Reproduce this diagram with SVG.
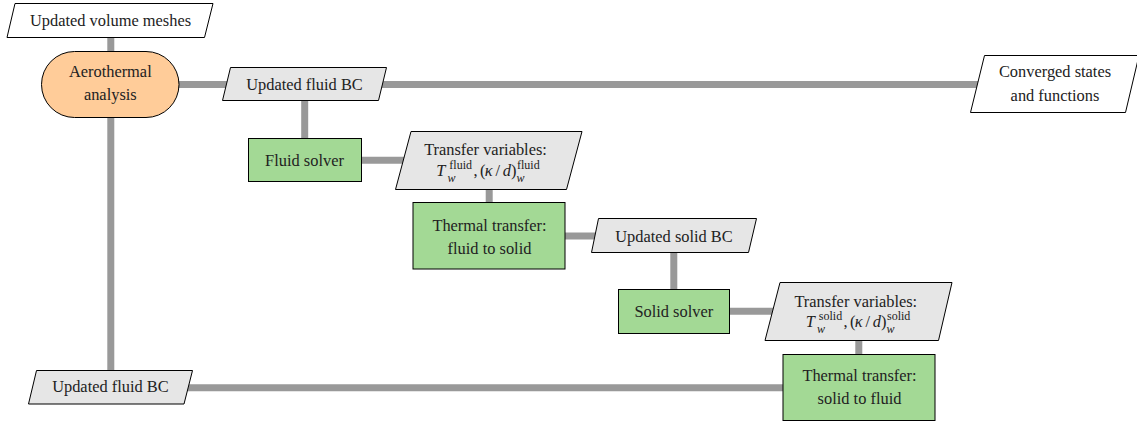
<svg xmlns="http://www.w3.org/2000/svg" width="1137" height="421" viewBox="0 0 1137 421" font-family="'Liberation Serif', 'DejaVu Serif', serif">
<style>
.c{stroke:#999999;stroke-width:7;fill:none}
.n{stroke:#000;stroke-width:1}
.w{fill:#ffffff}
.g{fill:#e6e6e6}
.o{fill:#ffcc99}
.gr{fill:#a3d995}
text{font-family:'Liberation Serif','DejaVu Serif',serif;font-size:16.4px;fill:#222;text-anchor:middle}
.m{text-anchor:start}
.i{font-style:italic}
.s{font-size:12px}
</style>
<rect width="1137" height="421" fill="#fff"/>
<g id="connectors">
<line class="c" x1="110.8" y1="30" x2="110.8" y2="60"/>
<line class="c" x1="110.8" y1="100" x2="110.8" y2="380"/>
<line class="c" x1="170" y1="84.5" x2="240" y2="84.5"/>
<line class="c" x1="370" y1="84.5" x2="990" y2="84.5"/>
<line class="c" x1="304.7" y1="90" x2="304.7" y2="150"/>
<line class="c" x1="355" y1="160.3" x2="415" y2="160.3"/>
<line class="c" x1="489.2" y1="180" x2="489.2" y2="210"/>
<line class="c" x1="560" y1="236" x2="605" y2="236"/>
<line class="c" x1="673.8" y1="245" x2="673.8" y2="295"/>
<line class="c" x1="725" y1="311.3" x2="780" y2="311.3"/>
<line class="c" x1="858.8" y1="335" x2="858.8" y2="360"/>
<line class="c" x1="180" y1="387.7" x2="790" y2="387.7"/>
</g>
<g id="volume-meshes">
<polygon class="n w" points="15,3.5 213,3.5 204.5,37.5 7,37.5"/>
<text x="110.5" y="25.5">Updated volume meshes</text>
</g>
<g id="aerothermal">
<rect class="n o" x="41.5" y="51.5" width="137.5" height="66" rx="33" ry="33"/>
<text x="110.3" y="77">Aerothermal</text>
<text x="110.3" y="100">analysis</text>
</g>
<g id="updated-fluid-bc-top">
<polygon class="n g" points="230.5,67.5 386.5,67.5 378.5,100.5 222.5,100.5"/>
<text x="304.5" y="90">Updated fluid BC</text>
</g>
<g id="converged">
<polygon class="n w" points="984.5,55.5 1139,55.5 1125.5,112.5 970.5,112.5"/>
<text x="1055" y="77">Converged states</text>
<text x="1055" y="101">and functions</text>
</g>
<g id="fluid-solver">
<rect class="n gr" x="248.5" y="138.5" width="113" height="43"/>
<text x="304.5" y="165.5">Fluid solver</text>
</g>
<g id="transfer-fluid">
<polygon class="n g" points="411,131.5 582,131.5 566.5,189.5 395.5,189.5"/>
<text x="485.5" y="155">Transfer variables:</text>
<text class="m i" x="436.3" y="175.5">T</text>
<text class="m s" x="449.3" y="168.5">fluid</text>
<text class="m s i" x="447.5" y="181.5">w</text>
<text class="m" x="473.5" y="175.5">,</text>
<text class="m" x="480" y="175.5">(</text>
<text class="m i" x="484.8" y="175.5">κ</text>
<text class="m" x="495.5" y="175.5">/</text>
<text class="m i" x="502.8" y="175.5">d</text>
<text class="m" x="511" y="175.5">)</text>
<text class="m s" x="517" y="168.5">fluid</text>
<text class="m s i" x="516.5" y="181.5">w</text>
</g>
<g id="thermal-fluid-to-solid">
<rect class="n gr" x="413" y="202.5" width="152" height="66.5"/>
<text x="489.5" y="231">Thermal transfer:</text>
<text x="489.5" y="253.5">fluid to solid</text>
</g>
<g id="updated-solid-bc">
<polygon class="n g" points="598.5,218.5 756.5,218.5 748.5,252.5 591.5,252.5"/>
<text x="674" y="241.5">Updated solid BC</text>
</g>
<g id="solid-solver">
<rect class="n gr" x="618.5" y="289.5" width="111" height="44"/>
<text x="673.8" y="316.5">Solid solver</text>
</g>
<g id="transfer-solid">
<polygon class="n g" points="780,282.5 952,282.5 938.5,340.5 765,340.5"/>
<text x="855.8" y="306.5">Transfer variables:</text>
<text class="m i" x="805.8" y="326.5">T</text>
<text class="m s" x="818.8" y="319.5">solid</text>
<text class="m s i" x="817" y="332.5">w</text>
<text class="m" x="843.5" y="326.5">,</text>
<text class="m" x="850" y="326.5">(</text>
<text class="m i" x="854.8" y="326.5">κ</text>
<text class="m" x="865.5" y="326.5">/</text>
<text class="m i" x="872.8" y="326.5">d</text>
<text class="m" x="881" y="326.5">)</text>
<text class="m s" x="887" y="319.5">solid</text>
<text class="m s i" x="886.5" y="332.5">w</text>
</g>
<g id="thermal-solid-to-fluid">
<rect class="n gr" x="783" y="354.5" width="152" height="66"/>
<text x="859.5" y="380.5">Thermal transfer:</text>
<text x="859.5" y="403.5">solid to fluid</text>
</g>
<g id="updated-fluid-bc-bottom">
<polygon class="n g" points="36.5,370.5 192.5,370.5 184,404 28.5,404"/>
<text x="110.4" y="392">Updated fluid BC</text>
</g>
</svg>
